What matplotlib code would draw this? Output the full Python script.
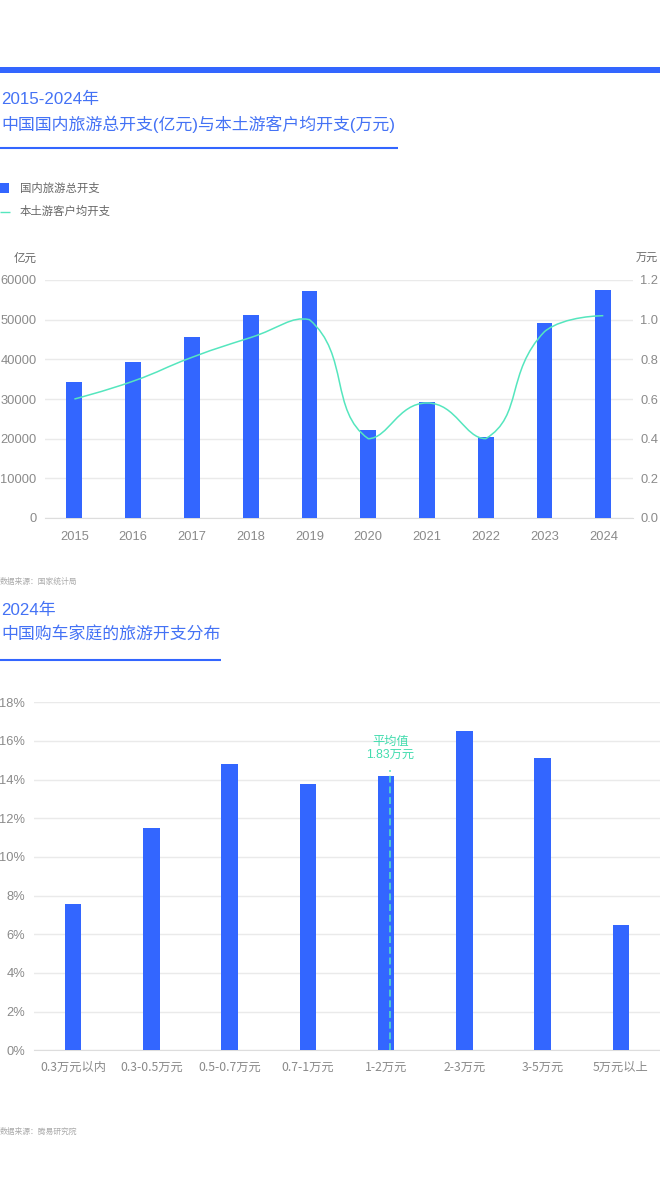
import numpy as np
import matplotlib
matplotlib.use("Agg")
import matplotlib.pyplot as plt
from matplotlib.path import Path
from matplotlib.patches import PathPatch, Rectangle
from matplotlib.lines import Line2D

plt.rcParams['font.family'] = ['Liberation Sans', 'Noto Sans CJK SC', 'DejaVu Sans']

# ---------------- data ----------------
years = ["2015", "2016", "2017", "2018", "2019", "2020", "2021", "2022", "2023", "2024"]
total_spend = [34195, 39390, 45661, 51278, 57251, 22286, 29191, 20444, 49133, 57500]   # 亿元
per_capita = [0.60, 0.69, 0.81, 0.91, 1.00, 0.40, 0.58, 0.40, 0.94, 1.02]             # 万元
left_ticks = [0, 10000, 20000, 30000, 40000, 50000, 60000]
right_ticks = [0.0, 0.2, 0.4, 0.6, 0.8, 1.0, 1.2]

bands = ["0.3万元以内", "0.3-0.5万元", "0.5-0.7万元", "0.7-1万元", "1-2万元", "2-3万元", "3-5万元", "5万元以上"]
shares = [7.55, 11.5, 14.8, 13.8, 14.2, 16.5, 15.1, 6.5]   # %
pct_ticks = [0, 2, 4, 6, 8, 10, 12, 14, 16, 18]
mean_label = "平均值\n1.83万元"
mean_band_index = 4
mean_offset = 0.055
mean_line_top = 14.5

# ---------------- style ----------------
W, H = 660, 1204
BLUE = '#3366FF'
TITLE_BLUE = '#4472F5'
TEAL = '#55E6BE'
TEAL_TXT = '#42DCAE'
GRID = '#EAEAEA'
TICK = '#8A8A8A'
LEG = '#666666'
SRC = '#AAAAAA'
TICK_FS = 9.3

fig = plt.figure(figsize=(W / 100, H / 100), dpi=100)
fig.patch.set_facecolor('white')


def fx(x):
    return x / W


def fy(y):
    return 1 - y / H


def hline(x0, x1, y, lw, color):
    fig.add_artist(Line2D([fx(x0), fx(x1)], [fy(y), fy(y)], lw=lw, color=color,
                          transform=fig.transFigure, solid_capstyle='butt'))


# top band
fig.add_artist(Rectangle((0, fy(73)), 1, 6 / H, transform=fig.transFigure,
                         color=BLUE, lw=0))

# ---------------- chart 1 titles ----------------
fig.text(fx(1), fy(99), "2015-2024年", fontsize=12.2, color=TITLE_BLUE, va='center', ha='left')
fig.text(fx(1), fy(124), "中国国内旅游总开支(亿元)与本土游客户均开支(万元)", fontsize=12.2,
         color=TITLE_BLUE, va='center', ha='left')
hline(0, 398, 148, 1.5, BLUE)

# legend
fig.add_artist(Rectangle((fx(0), fy(193)), fx(9), 10 / H, transform=fig.transFigure,
                         color=BLUE, lw=0))
fig.text(fx(20), fy(188), "国内旅游总开支", fontsize=8.2, color=LEG, va='center', ha='left')
hline(0, 10, 211.5, 1.0, TEAL)
fig.text(fx(20), fy(211.5), "本土游客户均开支", fontsize=8.2, color=LEG, va='center', ha='left')

# ---------------- chart 1 axes ----------------
ax = fig.add_axes([fx(45), fy(518), fx(632.7 - 45), (518 - 280) / H])
x = np.arange(len(years))
ax.bar(x, total_spend, width=0.27, color=BLUE, zorder=3)
ax.set_xlim(-0.5, len(years) - 0.5)
ax.set_ylim(0, 60000)
ax.set_yticks(left_ticks)
ax.set_yticklabels([str(t) for t in left_ticks])
ax.set_xticks(x)
ax.set_xticklabels(years)
ax.grid(axis='y', color=GRID, lw=1.0, zorder=0)
ax.set_axisbelow(True)
for s in ['top', 'right', 'left']:
    ax.spines[s].set_visible(False)
ax.spines['bottom'].set_color('#DDDDDD')
ax.tick_params(axis='both', length=0, labelsize=TICK_FS, colors=TICK)
ax.tick_params(axis='y', pad=6)
ax.tick_params(axis='x', pad=9)
ax.set_facecolor('none')

ax2 = ax.twinx()
ax2.set_ylim(0, 1.2)
ax2.set_yticks(right_ticks)
ax2.set_yticklabels([f"{t:.1f}" for t in right_ticks])
for s in ['top', 'right', 'left', 'bottom']:
    ax2.spines[s].set_visible(False)
ax2.tick_params(axis='y', length=0, labelsize=TICK_FS, colors=TICK, pad=5.5)


def smooth_path(axis, xs, ys, smooth=0.5):
    """Bezier smoothing with control points constrained to the data bounding box."""
    pts = axis.transData.transform(np.column_stack([xs, ys]))
    lo = pts.min(axis=0)
    hi = pts.max(axis=0)
    n = len(pts)
    cps = []
    for i in range(n):
        p = pts[i]
        if i == 0 or i == n - 1:
            cps.append((p.copy(), p.copy()))
            continue
        prev, nxt = pts[i - 1], pts[i + 1]
        v = (nxt - prev) * smooth
        d0 = np.hypot(*(p - prev))
        d1 = np.hypot(*(nxt - p))
        s = d0 + d1
        d0, d1 = d0 / s, d1 / s
        c0 = np.clip(p - v * d0, lo, hi)
        c1 = np.clip(p + v * d1, lo, hi)
        cps.append((c0, c1))
    verts = [pts[0]]
    codes = [Path.MOVETO]
    for i in range(1, n):
        verts += [cps[i - 1][1], cps[i][0], pts[i]]
        codes += [Path.CURVE4] * 3
    inv = axis.transData.inverted()
    return Path(inv.transform(np.array(verts)), codes)


path = smooth_path(ax2, x, per_capita)
ax2.add_patch(PathPatch(path, facecolor='none', edgecolor=TEAL, lw=1.1, zorder=5))

fig.text(fx(37), fy(259), "亿元", fontsize=8.3, color=LEG, va='center', ha='right')
fig.text(fx(636), fy(259), "万元", fontsize=8.0, color=LEG, va='center', ha='left')

fig.text(fx(0), fy(582), "数据来源：国家统计局", fontsize=5.6, color=SRC, va='center', ha='left')

# ---------------- chart 2 titles ----------------
fig.text(fx(1), fy(610), "2024年", fontsize=12.2, color=TITLE_BLUE, va='center', ha='left')
fig.text(fx(1), fy(635), "中国购车家庭的旅游开支分布", fontsize=12.2, color=TITLE_BLUE,
         va='center', ha='left')
hline(0, 220.7, 660, 1.5, BLUE)

# ---------------- chart 2 axes ----------------
bx = fig.add_axes([fx(34), fy(1050.3), 1 - fx(34), (1050.3 - 702.3) / H])
xb = np.arange(len(bands))
bx.bar(xb, shares, width=0.213, color=BLUE, zorder=3)
bx.set_xlim(-0.5, len(bands) - 0.5)
bx.set_ylim(0, 18)
bx.set_yticks(pct_ticks)
bx.set_yticklabels([f"{t}%" for t in pct_ticks])
bx.set_xticks(xb)
bx.set_xticklabels(bands, family=['Noto Sans CJK SC'], fontsize=8.8)
bx.grid(axis='y', color=GRID, lw=1.0, zorder=0)
bx.set_axisbelow(True)
for s in ['top', 'right', 'left']:
    bx.spines[s].set_visible(False)
bx.spines['bottom'].set_color('#DDDDDD')
bx.tick_params(axis='y', length=0, labelsize=TICK_FS, colors=TICK, pad=6.5)
bx.tick_params(axis='x', length=0, colors=TICK, pad=7.5)
bx.set_facecolor('none')

mx = mean_band_index + mean_offset
ml, = bx.plot([mx, mx], [0, mean_line_top], color=TEAL, lw=1.1, zorder=4)
ml.set_dashes([4.5, 2.5])
bx.text(mx, mean_line_top + 0.45, mean_label, ha='center', va='bottom', fontsize=8.8,
        color=TEAL_TXT, linespacing=1.1, zorder=5)

fig.text(fx(0), fy(1131.5), "数据来源：腾易研究院", fontsize=5.6, color=SRC, va='center', ha='left')

fig.savefig("out.png", dpi=100, facecolor='white')
